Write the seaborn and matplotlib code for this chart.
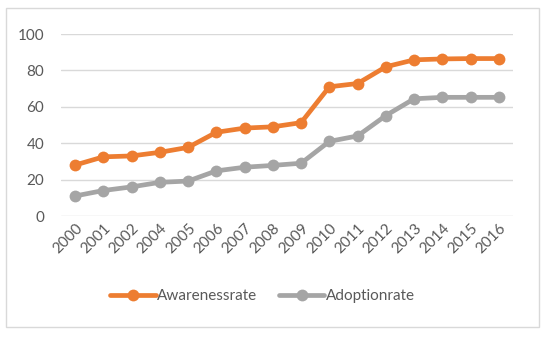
import pandas as pd
import matplotlib.pyplot as plt
import seaborn as sns
from matplotlib.patches import Rectangle

years = ['2000', '2001', '2002', '2004', '2005', '2006', '2007', '2008',
         '2009', '2010', '2011', '2012', '2013', '2014', '2015', '2016']
awareness = [28, 32.5, 33, 35, 37.7, 46, 48.3, 49, 51.3, 71, 72.8, 82, 85.8, 86.3, 86.5, 86.5]
adoption = [11, 14, 16, 18.5, 19.2, 24.8, 26.8, 27.8, 29, 41, 44, 55.2, 64.4, 65.2, 65.2, 65.2]

df = pd.DataFrame({'year': years, 'Awarenessrate': awareness, 'Adoptionrate': adoption})
df_long = df.melt(id_vars='year', var_name='series', value_name='rate')

sns.set_style('white')
plt.rcParams['font.family'] = ['Lato', 'DejaVu Sans']
text_col = '#595959'

fig = plt.figure(figsize=(5.5, 3.38), dpi=100)
ax = fig.add_axes([61/550, 1 - 216/338, 452/550, 182/338])

sns.lineplot(data=df_long, x='year', y='rate', hue='series', ax=ax,
             palette={'Awarenessrate': '#ED7D31', 'Adoptionrate': '#A5A5A5'},
             marker='o', markersize=8.5, markeredgewidth=0, linewidth=3.4, legend=False)

ax.set_xlim(-0.5, len(years) - 0.5)
ax.set_ylim(0, 100)
ax.set_yticks(range(0, 101, 20))
ax.yaxis.grid(True, color='#d9d9d9', linewidth=1)
ax.set_axisbelow(True)
for s in ax.spines.values():
    s.set_visible(False)
ax.set_xlabel('')
ax.set_ylabel('')
ax.tick_params(axis='y', length=0, pad=12, labelsize=11, labelcolor=text_col)
ax.tick_params(axis='x', length=0, pad=4, labelsize=11, labelcolor=text_col)
plt.setp(ax.get_xticklabels(), rotation=45, ha='right', rotation_mode='anchor')

h1, = ax.plot([], [], color='#ED7D31', marker='o', markersize=8.5, markeredgewidth=0, linewidth=3.4)
h2, = ax.plot([], [], color='#A5A5A5', marker='o', markersize=8.5, markeredgewidth=0, linewidth=3.4)
leg = fig.legend([h1, h2], ['Awarenessrate', 'Adoptionrate'], loc='center',
                 bbox_to_anchor=(0.477, 1 - 296/338), ncol=2, frameon=False,
                 fontsize=11, handlelength=3.0, handletextpad=0.1, columnspacing=1.4)
for t in leg.get_texts():
    t.set_color(text_col)

fig.patches.append(Rectangle((6/550, 1 - 327/338), 533/550, 319/338, transform=fig.transFigure,
                             fill=False, edgecolor='#d9d9d9', linewidth=1))

fig.savefig('out.png', dpi=100)
